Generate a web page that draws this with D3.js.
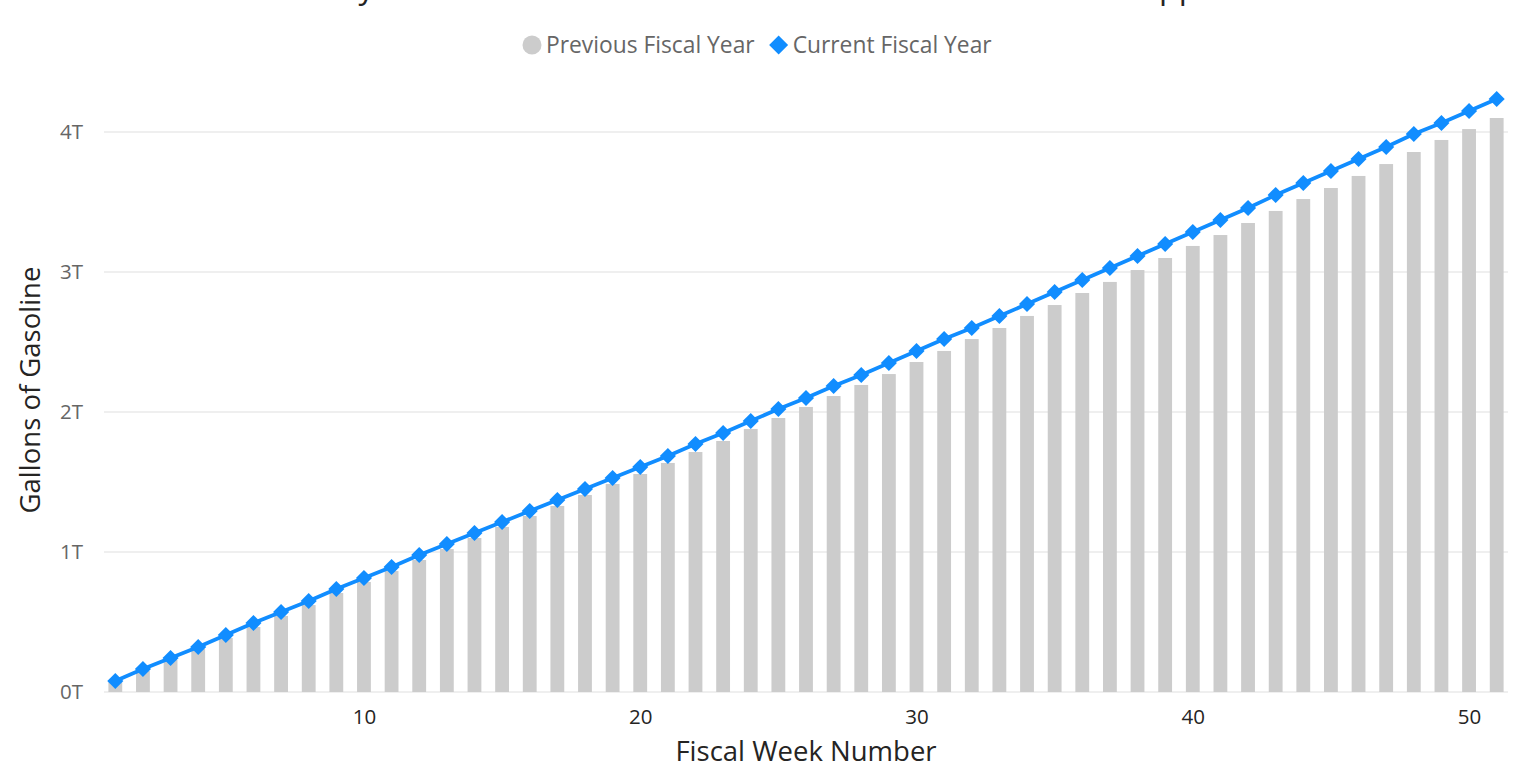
<!DOCTYPE html>
<html>
<head>
<meta charset="utf-8">
<script src="https://cdn.jsdelivr.net/npm/d3@7"></script>
<style>
  html, body { margin: 0; padding: 0; background: #fff; }
  svg { display: block; }
  text { font-family: "Open Sans", "Noto Sans", sans-serif; }
</style>
</head>
<body>
<svg id="chart" width="1520" height="771"></svg>
<script>
// ---- Data (values in trillions of gallons) ----
const weeks = d3.range(1, 52);
const previousFiscalYear = [
  0.071, 0.150, 0.229, 0.307, 0.386, 0.464, 0.543, 0.621, 0.707, 0.786,
  0.864, 0.943, 1.021, 1.100, 1.179, 1.257, 1.329, 1.407, 1.486, 1.557,
  1.636, 1.714, 1.793, 1.879, 1.957, 2.036, 2.114, 2.193, 2.271, 2.357,
  2.436, 2.521, 2.600, 2.686, 2.764, 2.850, 2.929, 3.014, 3.100, 3.186,
  3.264, 3.350, 3.436, 3.521, 3.600, 3.686, 3.771, 3.857, 3.943, 4.021,
  4.100
];
const currentFiscalYear = [
  0.079, 0.164, 0.243, 0.321, 0.407, 0.493, 0.571, 0.650, 0.736, 0.814,
  0.893, 0.979, 1.057, 1.136, 1.214, 1.293, 1.371, 1.450, 1.529, 1.607,
  1.686, 1.771, 1.850, 1.936, 2.021, 2.100, 2.186, 2.264, 2.350, 2.436,
  2.521, 2.600, 2.686, 2.771, 2.857, 2.943, 3.029, 3.114, 3.200, 3.286,
  3.371, 3.457, 3.550, 3.636, 3.721, 3.807, 3.893, 3.986, 4.064, 4.150,
  4.236
];
const yTicks = [0, 1, 2, 3, 4];
const xTicks = [10, 20, 30, 40, 50];
const seriesNames = ["Previous Fiscal Year", "Current Fiscal Year"];
const chartTitle = "Weekly Cumulative U.S. Finished Motor Gasoline Product Supplied";
const xTitle = "Fiscal Week Number";
const yTitle = "Gallons of Gasoline";

// ---- Layout ----
const svg = d3.select("#chart");
const plot = { left: 104, right: 1508, top: 62, bottom: 692 };

const x = d3.scaleBand().domain(weeks).range([101.5, 1510.5]).paddingInner(0.5).paddingOuter(0.25);
const y = d3.scaleLinear().domain([0, 4.5]).range([plot.bottom, plot.top]);

// Title (mostly above the visible area, as in the reference)
svg.append("text")
  .attr("x", 760).attr("y", -2)
  .attr("text-anchor", "middle")
  .attr("font-size", 32)
  .attr("fill", "#252423")
  .text(chartTitle);

// Gridlines
svg.append("g").selectAll("line").data(yTicks).join("line")
  .attr("x1", plot.left).attr("x2", plot.right)
  .attr("y1", d => y(d)).attr("y2", d => y(d))
  .attr("stroke", "#efefef").attr("stroke-width", 2);

// Y axis labels
const yAxis = d3.axisLeft(y).tickValues(yTicks).tickFormat(d => d + "T").tickSize(0).tickPadding(0);
const gy = svg.append("g").attr("transform", "translate(83,0)").call(yAxis);
gy.select(".domain").remove();
gy.selectAll("text").attr("font-size", 20.5).attr("fill", "#666666")
  .attr("font-family", "'Open Sans', sans-serif");

// X axis labels
const xLin = d3.scaleLinear().domain([1, 51]).range([x(1) + x.bandwidth() / 2, x(51) + x.bandwidth() / 2]);
const xAxis = d3.axisBottom(xLin).tickValues(xTicks).tickFormat(d3.format("d")).tickSize(0).tickPadding(0);
const gx = svg.append("g").attr("transform", "translate(0,709)").call(xAxis);
gx.select(".domain").remove();
gx.selectAll("text").attr("font-size", 20.5).attr("fill", "#252423")
  .attr("font-family", "'Open Sans', sans-serif");

// Bars (previous year)
svg.append("g").selectAll("rect").data(weeks).join("rect")
  .attr("x", d => x(d))
  .attr("width", x.bandwidth())
  .attr("y", (d, i) => y(previousFiscalYear[i]))
  .attr("height", (d, i) => y(0) - y(previousFiscalYear[i]))
  .attr("fill", "#cccccc");

// Line (current year)
const cx = d => x(d) + x.bandwidth() / 2;
const line = d3.line().x((d, i) => cx(weeks[i])).y(d => y(d));
svg.append("path").datum(currentFiscalYear)
  .attr("d", line)
  .attr("fill", "none")
  .attr("stroke", "#118DFF")
  .attr("stroke-width", 3.8)
  .attr("stroke-linejoin", "round");

const diamond = d3.symbol().type(d3.symbolDiamond2).size(165);
svg.append("g").selectAll("path").data(currentFiscalYear).join("path")
  .attr("transform", (d, i) => `translate(${cx(weeks[i])},${y(d)})`)
  .attr("d", diamond)
  .attr("fill", "#118DFF");

// Axis titles
svg.append("text")
  .attr("x", 806).attr("y", 761)
  .attr("text-anchor", "middle")
  .attr("font-size", 27.5)
  .attr("fill", "#252423")
  .text(xTitle);

svg.append("text")
  .attr("transform", "translate(40,390) rotate(-90)")
  .attr("text-anchor", "middle")
  .attr("font-size", 27.5)
  .attr("fill", "#252423")
  .text(yTitle);

// Legend
const legend = svg.append("g");
const legFont = 22.8;
legend.append("circle").attr("cx", 532).attr("cy", 45).attr("r", 9.5).attr("fill", "#cccccc");
const t1 = legend.append("text").attr("x", 546).attr("y", 53).attr("font-size", legFont)
  .attr("fill", "#666666").text(seriesNames[0]);
const end1 = 546 + t1.node().getComputedTextLength();
legend.append("path").attr("transform", `translate(${end1 + 24},45)`)
  .attr("d", d3.symbol().type(d3.symbolDiamond2).size(230)).attr("fill", "#118DFF");
legend.append("text").attr("x", end1 + 38).attr("y", 53).attr("font-size", legFont)
  .attr("fill", "#666666").text(seriesNames[1]);
</script>
</body>
</html>
